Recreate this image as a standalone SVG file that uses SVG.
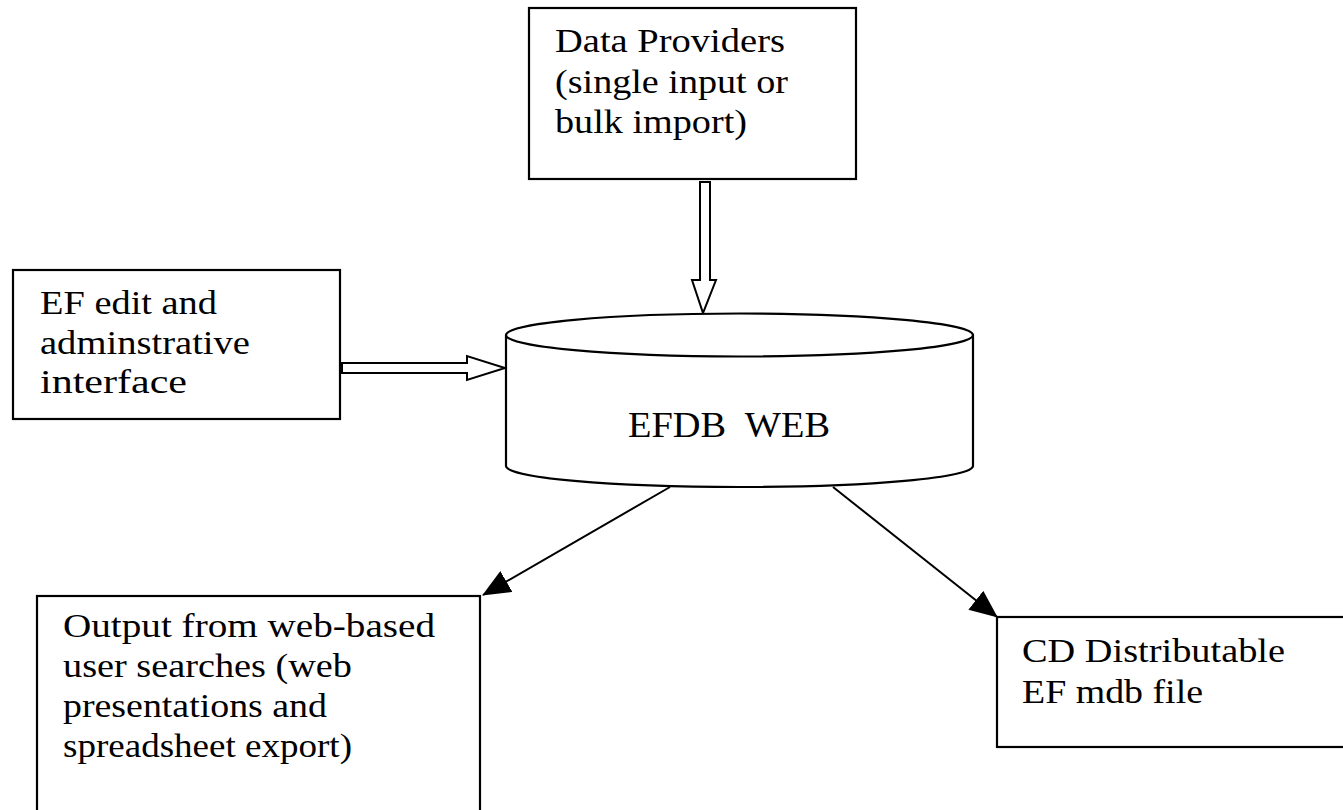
<svg xmlns="http://www.w3.org/2000/svg" width="1343" height="810" viewBox="0 0 1343 810">
<style>
.box{fill:#fff;stroke:#000;stroke-width:2.2}
.t{font-family:'Liberation Serif','Times New Roman',Times,serif;font-size:34px;fill:#000}
.hollow{fill:#fff;stroke:#000;stroke-width:2}
.line{stroke:#000;stroke-width:2;fill:none}
</style>
<defs>
<marker id="ah" markerUnits="userSpaceOnUse" markerWidth="28" markerHeight="24" refX="27" refY="12" orient="auto">
<path d="M0,0 L28,12 L0,24 z" fill="#000"/>
</marker>
</defs>
<rect width="1343" height="810" fill="#fff"/>
<g id="connectors">
<polygon class="hollow" points="700,182 710,182 710,280 716,280 703,313 692,280 700,280"/>
<polygon class="hollow" points="342,363 467,363 467,356 505,368 467,380 467,373 342,373"/>
<line class="line" x1="670" y1="487" x2="483" y2="595" marker-end="url(#ah)"/>
<line class="line" x1="833" y1="487" x2="997" y2="617" marker-end="url(#ah)"/>
</g>
<g id="data-providers">
<rect class="box" x="529" y="8" width="327" height="171"/>
<text class="t" x="555" y="52" textLength="230" lengthAdjust="spacingAndGlyphs">Data Providers</text>
<text class="t" x="555" y="93" textLength="233" lengthAdjust="spacingAndGlyphs">(single input or</text>
<text class="t" x="555" y="133" textLength="192" lengthAdjust="spacingAndGlyphs">bulk import)</text>
</g>
<g id="ef-edit">
<rect class="box" x="13" y="270" width="327" height="149"/>
<text class="t" x="40" y="314" textLength="177" lengthAdjust="spacingAndGlyphs">EF edit and</text>
<text class="t" x="40" y="354" textLength="210" lengthAdjust="spacingAndGlyphs">adminstrative</text>
<text class="t" x="40" y="393" textLength="147" lengthAdjust="spacingAndGlyphs">interface</text>
</g>
<g id="efdb-web">
<path class="box" d="M506,335 L506,466 A233.5,21 0 0 0 973,466 L973,335"/>
<ellipse class="box" cx="739.5" cy="335" rx="233.5" ry="21.5"/>
<text class="t" x="628" y="437" textLength="202" lengthAdjust="spacingAndGlyphs" style="font-size:36px;white-space:pre" xml:space="preserve">EFDB  WEB</text>
</g>
<g id="output">
<rect class="box" x="37" y="596" width="443" height="230"/>
<text class="t" x="63" y="637" textLength="372" lengthAdjust="spacingAndGlyphs">Output from web-based</text>
<text class="t" x="63" y="677" textLength="289" lengthAdjust="spacingAndGlyphs">user searches (web</text>
<text class="t" x="63" y="717" textLength="264" lengthAdjust="spacingAndGlyphs">presentations and</text>
<text class="t" x="63" y="757" textLength="289" lengthAdjust="spacingAndGlyphs">spreadsheet export)</text>
</g>
<g id="cd">
<rect class="box" x="997" y="617" width="360" height="130"/>
<text class="t" x="1022" y="662" textLength="263" lengthAdjust="spacingAndGlyphs">CD Distributable</text>
<text class="t" x="1022" y="703" textLength="181" lengthAdjust="spacingAndGlyphs">EF mdb file</text>
</g>
</svg>
